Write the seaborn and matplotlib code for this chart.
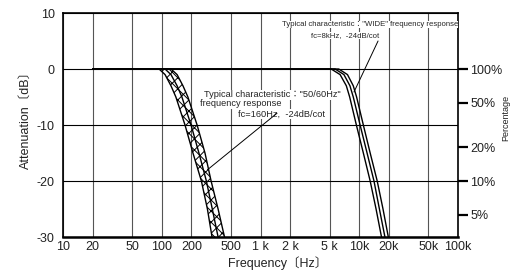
import numpy as np
import matplotlib
matplotlib.use('Agg')
import matplotlib.pyplot as plt
from matplotlib.ticker import NullLocator
import seaborn as sns

# axis ticks
freq_ticks = [10, 20, 50, 100, 200, 500, 1000, 2000, 5000, 10000, 20000, 50000, 100000]
freq_labels = ['10', '20', '50', '100', '200', '500', '1 k', '2 k', '5 k', '10k', '20k', '50k', '100k']
db_ticks = [10, 0, -10, -20, -30]
pct_values = [100, 50, 20, 10, 5]
pct_labels = ['100%', '50%', '20%', '10%', '5%']

# curves (same dB levels for every curve)
db_levels = [0, 0, -1, -3, -5, -10, -15, -20, -25, -30]
f50_left = [20, 94, 108, 124, 139, 172, 207, 252, 290, 323]
f50_mid = [20, 108, 124, 143, 160, 198, 238, 283, 325, 372]
f50_right = [20, 124, 143, 164, 184, 228, 274, 316, 372, 432]
fw_left = [20, 5200, 6400, 7400, 8000, 9350, 11000, 12900, 14800, 16800]
fw_mid = [20, 5700, 7000, 8050, 8700, 10200, 12000, 14100, 16000, 18200]
fw_right = [20, 6200, 7600, 8700, 9400, 11000, 12900, 15200, 17400, 19700]

sns.set_theme(style='white')
plt.rcParams['font.family'] = ['Liberation Sans', 'Noto Sans CJK JP', 'DejaVu Sans']
plt.rcParams['axes.unicode_minus'] = False
plt.rcParams['hatch.linewidth'] = 0.7
plt.rcParams['hatch.color'] = 'black'

fig = plt.figure(figsize=(5.12, 2.71), dpi=100)
ax = fig.add_axes([63 / 512, 1 - 237 / 271, 395 / 512, 224 / 271])
ax.set_xscale('log')

# tolerance band of the 50/60Hz filter
ax.fill_betweenx(db_levels, f50_left, f50_right, facecolor='none', edgecolor='black',
                 hatch='xxx', linewidth=0, zorder=2.5)

for xs in [f50_left, f50_mid, f50_right, fw_left, fw_mid, fw_right]:
    sns.lineplot(x=xs, y=db_levels, ax=ax, color='black', lw=1.0, sort=False,
                 estimator=None, zorder=3)

ax.set_xlim(10, 100000)
ax.set_ylim(-30, 10)
ax.set_xticks(freq_ticks, freq_labels)
ax.xaxis.set_minor_locator(NullLocator())
ax.set_yticks(db_ticks)
ax.grid(True, axis='x', color='#555555', lw=0.8)
ax.grid(True, axis='y', color='black', lw=0.8)
ax.tick_params(axis='both', length=0, labelsize=9, colors='#222222')
ax.tick_params(axis='x', pad=3)
ax.tick_params(axis='y', pad=6)
for s in ax.spines.values():
    s.set_color('black')
    s.set_linewidth(1.2)
ax.spines['bottom'].set_linewidth(1.8)

ax.set_xlabel('Frequency〔Hz〕', fontsize=9, color='#222222')
ax.xaxis.set_label_coords(0.544, -0.085)
ax.set_ylabel('Attenuation〔dB〕', fontsize=9, color='#222222')
ax.yaxis.set_label_coords(-0.078, 0.536)

# right axis in percent
ax2 = ax.twinx()
ax2.set_ylim(-30, 10)
ax2.set_yticks(20 * np.log10(np.array(pct_values) / 100), pct_labels)
ax2.tick_params(axis='y', right=True, labelright=True, direction='out', length=7,
                width=1.6, pad=2, labelsize=9, colors='#222222')
ax2.tick_params(axis='y', which='both', color='black')
for s in ax2.spines.values():
    s.set_visible(False)
fig.text(506 / 512, 1 - 118 / 271, 'Percentage', rotation=90, ha='center', va='center',
         fontsize=6.5, color='#222222')

# annotations
box = dict(facecolor='white', edgecolor='none', pad=0.2)
note = dict(transform=ax.transAxes, ha='center', va='center', bbox=box, zorder=4)
ax.text(0.777, 0.949, 'Typical characteristic："WIDE" frequency response', fontsize=5.6, **note)
ax.text(0.715, 0.900, 'fc=8kHz,  -24dB/cot', fontsize=5.6, **note)
ax.text(0.529, 0.634, 'Typical characteristic："50/60Hz"', fontsize=6.7, **note)
ax.text(0.449, 0.594, 'frequency response', fontsize=6.7, **note)
ax.text(0.552, 0.549, 'fc=160Hz,  -24dB/cot', fontsize=6.7, **note)

leader = dict(arrowstyle='-', lw=0.7, color='black', shrinkA=0, shrinkB=0)
ax.annotate('', xy=(8850, -4.1), xytext=(15500, 5.0), arrowprops=leader, zorder=5)
ax.annotate('', xy=(290, -18.0), xytext=(1470, -7.9), arrowprops=leader, zorder=5)

fig.savefig('out.png', dpi=100)
